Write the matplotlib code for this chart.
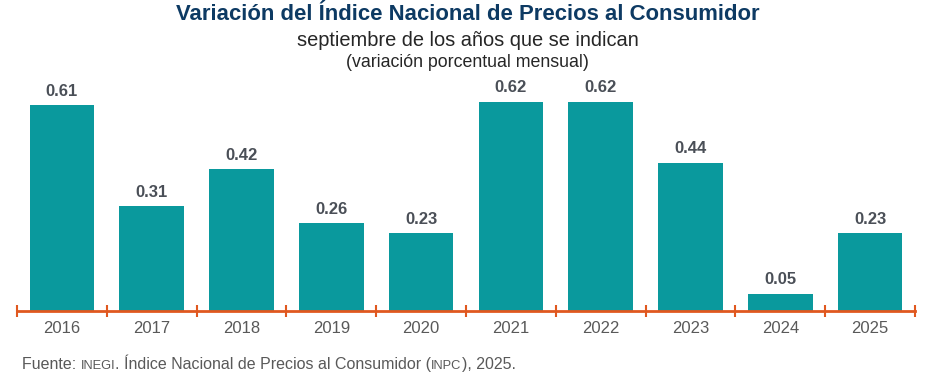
import numpy as np
import matplotlib.pyplot as plt

plt.rcParams['font.family'] = ['Liberation Sans', 'DejaVu Sans']

years = ['2016', '2017', '2018', '2019', '2020', '2021', '2022', '2023', '2024', '2025']
values = [0.61, 0.31, 0.42, 0.26, 0.23, 0.62, 0.62, 0.44, 0.05, 0.23]

bar_color = '#0A999D'
axis_color = '#E0581F'
label_color = '#4A4F57'

fig = plt.figure(figsize=(9.35, 3.88), dpi=100)
ax = fig.add_axes([17 / 935, 77 / 388, 898 / 935, 236 / 388])

x = np.arange(len(years))
ax.bar(x, values, width=0.72, color=bar_color, zorder=2)
for xi, v in zip(x, values):
    ax.text(xi, v + 0.02, f'{v:.2f}', ha='center', va='bottom',
            fontsize=12, fontweight='bold', color=label_color)

ax.set_xlim(-0.5, len(years) - 0.5)
ax.set_ylim(0, 0.70)
ax.set_yticks([])
for s in ['top', 'right', 'left']:
    ax.spines[s].set_visible(False)
ax.spines['bottom'].set_color(axis_color)
ax.spines['bottom'].set_linewidth(2)
ax.spines['bottom'].set_zorder(3)

# ticks sit between the categories, labels at bar centres
ax.set_xticks(np.arange(-0.5, len(years), 1.0))
ax.set_xticklabels([])
ax.set_xticks(x, minor=True)
ax.set_xticklabels(years, minor=True, fontsize=12, color='#595959')
ax.tick_params(axis='x', which='major', direction='inout', length=9, width=1.5, color=axis_color)
ax.tick_params(axis='x', which='minor', length=0, pad=7)

fig.text(0.5, 0.962, 'Variación del Índice Nacional de Precios al Consumidor', ha='center', va='center',
         fontsize=15.9, fontweight='bold', color='#0D3A63')
fig.text(0.5, 0.895, 'septiembre de los años que se indican', ha='center', va='center',
         fontsize=14.4, color='#262626')
fig.text(0.5, 0.840, '(variación porcentual mensual)', ha='center', va='center',
         fontsize=12.8, color='#262626')

# source line, INEGI / INPC in small caps
src_parts = [('Fuente: ', 11.5), ('INEGI', 9.3), ('. Índice Nacional de Precios al Consumidor (', 11.5),
             ('INPC', 9.3), ('), 2025.', 11.5)]
fig.canvas.draw()
renderer = fig.canvas.get_renderer()
xpos = 22
for txt, fs in src_parts:
    t = fig.text(xpos / 935, 1 - 369 / 388, txt, ha='left', va='baseline', fontsize=fs, color='#595959')
    xpos += t.get_window_extent(renderer).width

fig.savefig('out.png', dpi=100)
